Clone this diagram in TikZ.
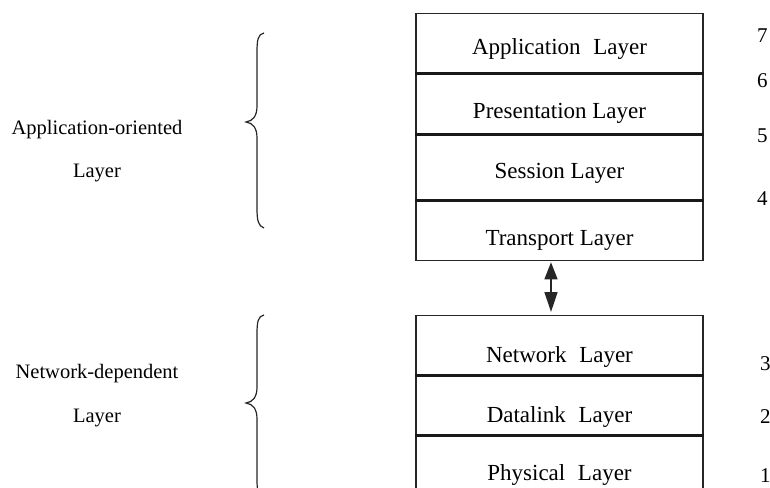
\documentclass[tikz,border=0pt]{standalone}
\usepackage{fontspec}
\setmainfont{Liberation Serif}
\usetikzlibrary{arrows.meta}
\begin{document}
\begin{tikzpicture}[x=1pt,y=-1pt,
  layer/.style={draw=black!85, line width=1.2pt, minimum width=287pt, inner sep=0pt, anchor=north},
  divider/.style={line width=2.8pt, black!90},
  lbl/.style={font=\fontsize{23}{27}\selectfont, inner sep=0pt, anchor=base},
  side/.style={font=\fontsize{20.5}{24}\selectfont, inner sep=0pt, anchor=base},
  num/.style={font=\fontsize{21}{25}\selectfont, inner sep=0pt, anchor=base west},
  brace/.style={line width=1.2pt, black!85},
  headup/.tip={Triangle[length=17pt,width=13pt]},
  headdown/.tip={Triangle[length=20pt,width=13pt]},
  link/.style={line width=1.4pt, black!85, headup-headdown}]
\useasboundingbox (0,0) rectangle (770,487);

% upper stack: layers 7 to 4
\node[layer, minimum height=59pt] (L7) at (559.5,13) {};
\node[layer, minimum height=60pt] (L6) at (L7.south) {};
\node[layer, minimum height=65pt] (L5) at (L6.south) {};
\node[layer, minimum height=59pt] (L4) at (L5.south) {};
% lower stack: layers 3 to 1
\node[layer, minimum height=59pt] (L3) at (559.5,315) {};
\node[layer, minimum height=59pt] (L2) at (L3.south) {};
\node[layer, minimum height=70pt] (L1) at (L2.south) {};

% heavier rules between adjacent layers
\foreach \b in {L7,L6,L5,L3,L2}
  \draw[divider] (\b.south west) -- (\b.south east);

% layer names
\node[lbl] (t7) at (559.5,55)  {Application\hspace{.3em} Layer};
\node[lbl] (t6) at (559.5,118) {Presentation Layer};
\node[lbl] (t5) at (559.5,178) {Session Layer};
\node[lbl] (t4) at (559.5,245) {Transport Layer};
\node[lbl] (t3) at (559.5,362) {Network\hspace{.3em} Layer};
\node[lbl] (t2) at (559.5,422) {Datalink\hspace{.3em} Layer};
\node[lbl] (t1) at (559.5,480) {Physical\hspace{.3em} Layer};

% layer numbers
\node[num] (n7) at (757,42)  {7};
\node[num] (n6) at (757,87)  {6};
\node[num] (n5) at (757,142) {5};
\node[num] (n4) at (757,205) {4};
\node[num] (n3) at (760,370) {3};
\node[num] (n2) at (760,423) {2};
\node[num] (n1) at (760,482) {1};

% link between the two groups
\draw[link, shorten <=1.5pt, shorten >=3pt] ([xshift=-8.5pt]L4.south) -- ([xshift=-8.5pt]L3.north);

% group braces
\draw[brace] (264,33) .. controls (258,34) and (257,40) .. (257,52) -- (257,106)
  .. controls (257,116) and (253,121) .. (246,122)
  .. controls (253,123) and (257,128) .. (257,138) -- (257,208)
  .. controls (257,220) and (258,226) .. (264,228);
\draw[brace] (264,315) .. controls (258,316) and (257,322) .. (257,334) -- (257,387)
  .. controls (257,397) and (253,402) .. (246,403)
  .. controls (253,404) and (257,409) .. (257,419) -- (257,480)
  .. controls (257,490) and (258,495) .. (264,496);

% group names
\node[side] (g1a) at (97,134) {Application-oriented};
\node[side] (g1b) at (97,177) {Layer};
\node[side] (g2a) at (97,378) {Network-dependent};
\node[side] (g2b) at (97,422) {Layer};
\end{tikzpicture}
\end{document}
